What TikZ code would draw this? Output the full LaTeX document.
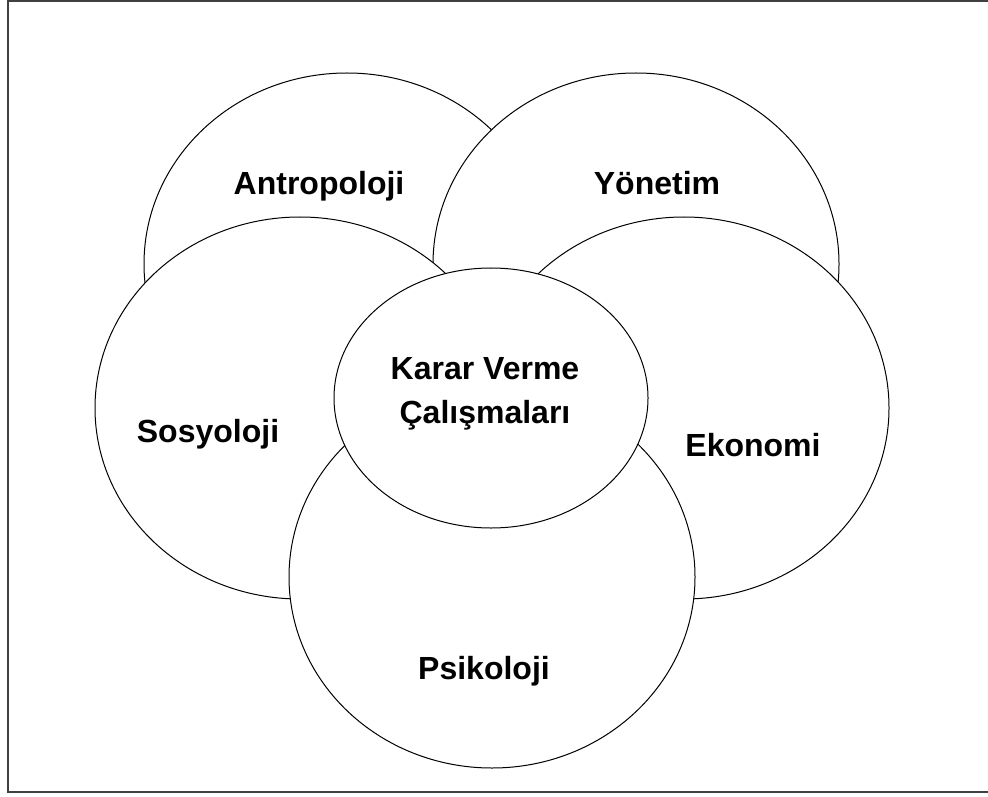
\documentclass[tikz,border=0pt]{standalone}
\usepackage{fontspec}
\setmainfont{Liberation Sans}
\usepackage{xcolor}
\usepackage{tikz}
\usetikzlibrary{shapes.geometric}
\usetikzlibrary{positioning}

\begin{document}
\begin{tikzpicture}[
        x=0.5pt, y=-0.5pt,
        field/.style={ellipse, draw=black, fill=white, line width=0.5pt, inner sep=0pt},
        fieldtext/.style={anchor=base, font=\fontsize{16}{22}\selectfont\bfseries, align=center, inner sep=0pt},
        frame/.style={draw=black!75, line width=1pt}
    ]
        \useasboundingbox (0,0) rectangle (988,796);

        % ===== çerçeve =====
        \draw [frame] (995,1) -- (8,1) -- (8,792) -- (995,792);

        % ===== alanlar =====
        \node (antro) [field, minimum width=203pt, minimum height=191pt] at (347,264) {};
        \node (yonetim) [field, minimum width=203pt, minimum height=191pt] at (636,264) {};
        \node (sosyo) [field, minimum width=205pt, minimum height=191pt] at (300,408) {};
        \node (ekonomi) [field, minimum width=205pt, minimum height=191pt] at (684,408) {};
        \node (psiko) [field, minimum width=203pt, minimum height=191pt] at (492,577) {};
        \node (karar) [field, minimum width=157pt, minimum height=130pt] at (491,398) {};

        % ===== etiketler =====
        \node (antroText) [fieldtext] at (319,195) {Antropoloji};
        \node (yonetimText) [fieldtext] at (657,195) {Yönetim};
        \node (sosyoText) [fieldtext] at (208,442) {Sosyoloji};
        \node (ekonomiText) [fieldtext] at (753,456) {Ekonomi};
        \node (psikoText) [fieldtext] at (484,679) {Psikoloji};
        \node (kararText) [fieldtext] at (485,423) {Karar Verme\\Çalışmaları};

    \end{tikzpicture}
\end{document}
